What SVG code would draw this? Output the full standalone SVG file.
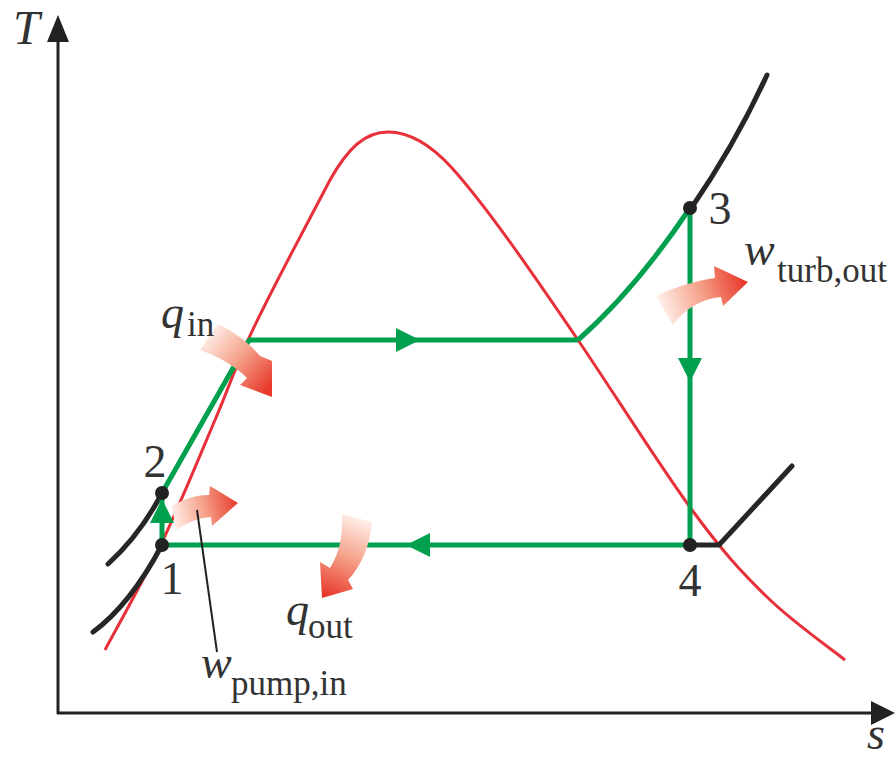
<svg xmlns="http://www.w3.org/2000/svg" width="896" height="758" viewBox="0 0 896 758">
<style>
.ax{stroke:#222;stroke-width:3;fill:none}
.dome{stroke:#e8303a;stroke-width:3;fill:none}
.iso{stroke:#262626;stroke-width:5;fill:none;stroke-linecap:round}
.cyc{stroke:#00a04e;stroke-width:5;fill:none}
.gh{fill:#00a04e}
.dot{fill:#222}
.t{font-family:"Liberation Serif","Times New Roman",serif;fill:#333}
.big{font-size:46px}
.it{font-style:italic}
.sub{font-size:35px}
</style>
<defs>
<path id="ga" d="M0,0 L-24,-12 L-24,12 Z"/>
<linearGradient id="g1" gradientUnits="userSpaceOnUse" x1="205" y1="335" x2="268" y2="390"><stop offset="0" stop-color="#fff0ea"/><stop offset="0.5" stop-color="#f5a088"/><stop offset="1" stop-color="#e8392b"/></linearGradient>
<linearGradient id="g2" gradientUnits="userSpaceOnUse" x1="172" y1="518" x2="238" y2="503"><stop offset="0" stop-color="#fff0ea"/><stop offset="0.5" stop-color="#f5a088"/><stop offset="1" stop-color="#e8392b"/></linearGradient>
<linearGradient id="g3" gradientUnits="userSpaceOnUse" x1="357" y1="516" x2="325" y2="595"><stop offset="0" stop-color="#fff0ea"/><stop offset="0.5" stop-color="#f5a088"/><stop offset="1" stop-color="#e8392b"/></linearGradient>
<linearGradient id="g4" gradientUnits="userSpaceOnUse" x1="662" y1="312" x2="745" y2="283"><stop offset="0" stop-color="#fff0ea"/><stop offset="0.5" stop-color="#f5a088"/><stop offset="1" stop-color="#e8392b"/></linearGradient>
</defs>
<rect width="896" height="758" fill="#fff"/>

<g id="axes">
<line class="ax" x1="58" y1="714" x2="58" y2="36"/>
<path d="M58,15 L47,42 L69,42 Z" fill="#222"/>
<line class="ax" x1="57" y1="713" x2="876" y2="713"/>
<path d="M895,713 L871,701 L871,725 Z" fill="#222"/>
<text class="t big it" x="13" y="44" style="font-size:48px">T</text>
<text class="t big it" x="867" y="749">s</text>
</g>

<g id="saturation-dome">
<path class="dome" d="M105,650 C114.7,631.7 144.7,578.3 163,540 C181.3,501.7 200.8,453.3 215,420 C229.2,386.7 232.2,375 248,340 C268,296 305,228 330,180 C348,148 365,132 388,132 C410,132 432,146 452,168 C485,205 525,262 578,340 C612,390 660.5,467.2 692,510 C723.5,552.8 741.5,572 767,597 C792.5,622 832,649.5 845,660"/>
</g>

<g id="isobars">
<path class="iso" d="M93,632 Q130,605 162,545"/>
<path class="iso" d="M108,564 Q140,535 162,493"/>
<path class="iso" d="M690,210 Q735,145 767,75"/>
<path class="iso" d="M690,545 L719,545 L792,466"/>
</g>

<g id="connectors">
<line class="cyc" x1="162" y1="545" x2="162" y2="493"/>
<line class="cyc" x1="162" y1="493" x2="249" y2="340"/>
<line class="cyc" x1="248" y1="340" x2="578" y2="340"/>
<path class="cyc" d="M578,340 Q635,290 690,208"/>
<line class="cyc" x1="690" y1="208" x2="690" y2="545"/>
<line class="cyc" x1="690" y1="545" x2="162" y2="545"/>
<use href="#ga" class="gh" transform="translate(420,340)"/>
<use href="#ga" class="gh" transform="translate(690,382) rotate(90)"/>
<use href="#ga" class="gh" transform="translate(406,545) rotate(180)"/>
<use href="#ga" class="gh" transform="translate(162,499) rotate(-90)"/>
</g>

<g id="state-1">
<circle class="dot" cx="162" cy="545" r="7"/>
<text class="t big" x="172" y="594" text-anchor="middle">1</text>
</g>
<g id="state-2">
<circle class="dot" cx="162" cy="493" r="7"/>
<text class="t big" x="155" y="477" text-anchor="middle">2</text>
</g>
<g id="state-3">
<circle class="dot" cx="690" cy="208" r="7"/>
<text class="t big" x="720" y="224" text-anchor="middle">3</text>
</g>
<g id="state-4">
<circle class="dot" cx="690" cy="545" r="7"/>
<text class="t big" x="690" y="596" text-anchor="middle">4</text>
</g>

<g id="q-in">
<path fill="url(#g1)" d="M218,324 C235,332 250,344 260,356 L272,361 L272,397 L240,385 L247,378 C235,366 218,356 200,350 Z"/>
<text class="t big it" x="161" y="328">q</text>
<text class="t sub" x="187" y="336">in</text>
</g>

<g id="w-pump-in">
<path fill="url(#g2)" d="M172,506 C185,498 198,495 209,495 L210,486 L238,503 L212,526 L211,517 C198,518 188,522 176,530 Z"/>
<line x1="197" y1="510" x2="217" y2="652" stroke="#222" stroke-width="2"/>
<text class="t big it" x="201" y="678">w</text>
<text class="t sub" x="231" y="695">pump,in</text>
</g>

<g id="q-out">
<path fill="url(#g3)" d="M342,514 L372,522 C370,545 362,565 348,580 L353,589 L322,598 L320,562 L330,568 C340,552 343,535 342,514 Z"/>
<text class="t big it" x="286" y="625">q</text>
<text class="t sub" x="308" y="638">out</text>
</g>

<g id="w-turb-out">
<path fill="url(#g4)" d="M656,296 C675,287 695,281 715,278 L714,266 L748,282 L723,306 L721,297 C702,299 685,308 673,325 Z"/>
<text class="t big it" x="744" y="265">w</text>
<text class="t sub" x="777" y="282">turb,out</text>
</g>
</svg>
